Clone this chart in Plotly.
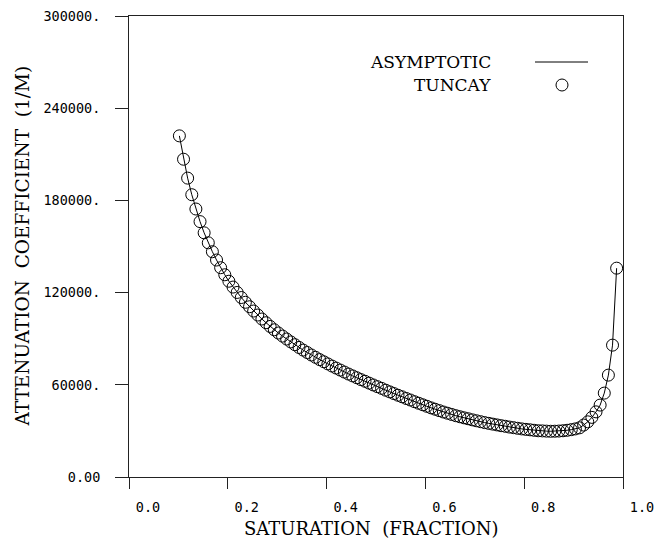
import plotly.graph_objects as go

saturation = [
    0.1020, 0.1104, 0.1187, 0.1271, 0.1354, 0.1438, 0.1521, 0.1605, 0.1688, 0.1772,
    0.1855, 0.1939, 0.2022, 0.2106, 0.2189, 0.2273, 0.2356, 0.2440, 0.2523, 0.2607,
    0.2690, 0.2774, 0.2857, 0.2941, 0.3024, 0.3108, 0.3191, 0.3275, 0.3358, 0.3442,
    0.3525, 0.3609, 0.3692, 0.3776, 0.3859, 0.3943, 0.4026, 0.4110, 0.4193, 0.4277,
    0.4360, 0.4444, 0.4527, 0.4611, 0.4694, 0.4778, 0.4861, 0.4945, 0.5028, 0.5112,
    0.5195, 0.5279, 0.5362, 0.5446, 0.5529, 0.5613, 0.5696, 0.5780, 0.5863, 0.5947,
    0.6030, 0.6114, 0.6197, 0.6281, 0.6364, 0.6448, 0.6531, 0.6615, 0.6698, 0.6782,
    0.6865, 0.6949, 0.7032, 0.7116, 0.7199, 0.7283, 0.7366, 0.7450, 0.7533, 0.7617,
    0.7700, 0.7784, 0.7867, 0.7951, 0.8034, 0.8118, 0.8201, 0.8285, 0.8368, 0.8452,
    0.8535, 0.8619, 0.8702, 0.8786, 0.8869, 0.8953, 0.9036, 0.9120, 0.9203, 0.9287,
    0.9370, 0.9454, 0.9537, 0.9621, 0.9704, 0.9788, 0.9871,
]

attenuation = [
    222000, 206800, 194500, 183700, 174400, 166200, 158900, 152400, 146600, 141200,
    136200, 131600, 127400, 123600, 120100, 116800, 113700, 110800, 108000, 105400,
    102800, 100400, 98000, 95800, 93700, 91700, 89800, 87900, 86100, 84300,
    82600, 81000, 79400, 77900, 76400, 75000, 73600, 72200, 70900, 69600,
    68300, 67000, 65800, 64600, 63400, 62300, 61100, 59900, 58800, 57700,
    56500, 55400, 54300, 53200, 52200, 51100, 50100, 49000, 48000, 47000,
    46000, 45000, 44100, 43200, 42300, 41500, 40700, 39900, 39200, 38500,
    37900, 37200, 36600, 36000, 35400, 34900, 34400, 33900, 33400, 33000,
    32500, 32100, 31700, 31300, 31000, 30700, 30400, 30100, 30000, 29850,
    29750, 29800, 29900, 30100, 30400, 30800, 31300, 32000, 33800, 35900,
    38800, 42400, 46800, 54600, 66300, 85800, 135900,
]

x_ticks = [0.0, 0.2, 0.4, 0.6, 0.8, 1.0]
x_ticktext = ["0.0", "0.2", "0.4", "0.6", "0.8", "1.0"]
y_ticks = [0, 60000, 120000, 180000, 240000, 300000]
y_ticktext = ["0.00", "60000.", "120000.", "180000.", "240000.", "300000."]

x_title = "SATURATION  (FRACTION)"
y_title = "ATTENUATION  COEFFICIENT  (1/M)"
legend_names = ["ASYMPTOTIC", "TUNCAY"]

assert len(saturation) == len(attenuation)

TITLE_FONT = "DejaVu Serif"
TICK_FONT = "DejaVu Sans Mono"
AX = "#222222"

fig = go.Figure()
fig.add_trace(go.Scatter(
    x=saturation, y=attenuation, mode="lines",
    line=dict(color="black", width=1), name=legend_names[0], showlegend=False,
))
fig.add_trace(go.Scatter(
    x=saturation, y=attenuation, mode="markers",
    marker=dict(symbol="circle-open", size=12, color="black", line=dict(width=1, color="black")),
    name=legend_names[1], showlegend=False,
))

axis_common = dict(
    showgrid=False, zeroline=False, showline=True, linecolor=AX, linewidth=1,
    mirror=True, ticks="outside", tickcolor=AX, tickwidth=1, automargin=False,
    tickfont=dict(family=TICK_FONT, size=13.5, color="black"),
)

fig.update_xaxes(
    range=[0, 1.0], tickvals=x_ticks, ticktext=x_ticktext, ticklen=11,
    ticklabelshift=19, ticklabelstandoff=7, **axis_common,
)
fig.update_yaxes(
    range=[0, 300000], tickvals=y_ticks, ticktext=y_ticktext, ticklen=13,
    ticklabelstandoff=12, **axis_common,
)

annotations = [
    dict(text=x_title, xref="paper", yref="paper", x=0.49, y=0, yanchor="middle",
         xanchor="center", yshift=-51, showarrow=False,
         font=dict(family=TITLE_FONT, size=18, color="black")),
    dict(text=y_title, xref="paper", yref="paper", x=0, y=0.5, xanchor="center",
         yanchor="middle", xshift=-107, textangle=-90, showarrow=False,
         font=dict(family=TITLE_FONT, size=18.5, color="black")),
    dict(text=legend_names[0], xref="paper", yref="paper", x=(493 - 129) / 494,
         y=(477 - 62) / 461, xanchor="right", yanchor="middle", showarrow=False,
         font=dict(family=TITLE_FONT, size=17, color="black")),
    dict(text=legend_names[1], xref="paper", yref="paper", x=(493 - 129) / 494,
         y=(477 - 84.5) / 461, xanchor="right", yanchor="middle", showarrow=False,
         font=dict(family=TITLE_FONT, size=17, color="black")),
]

shapes = [
    dict(type="line", xref="paper", yref="paper",
         x0=(535 - 129) / 494, x1=(588 - 129) / 494,
         y0=(477 - 62) / 461, y1=(477 - 62) / 461,
         line=dict(color="black", width=1)),
    dict(type="circle", xref="paper", yref="paper",
         x0=(556 - 129) / 494, x1=(568 - 129) / 494,
         y0=(477 - 91) / 461, y1=(477 - 79) / 461,
         line=dict(color="black", width=1)),
]

fig.update_layout(
    width=655, height=546,
    margin=dict(l=129, r=32, t=16, b=69, autoexpand=False),
    plot_bgcolor="white", paper_bgcolor="white",
    showlegend=False,
    annotations=annotations, shapes=shapes,
)

fig.write_html("out.html")
